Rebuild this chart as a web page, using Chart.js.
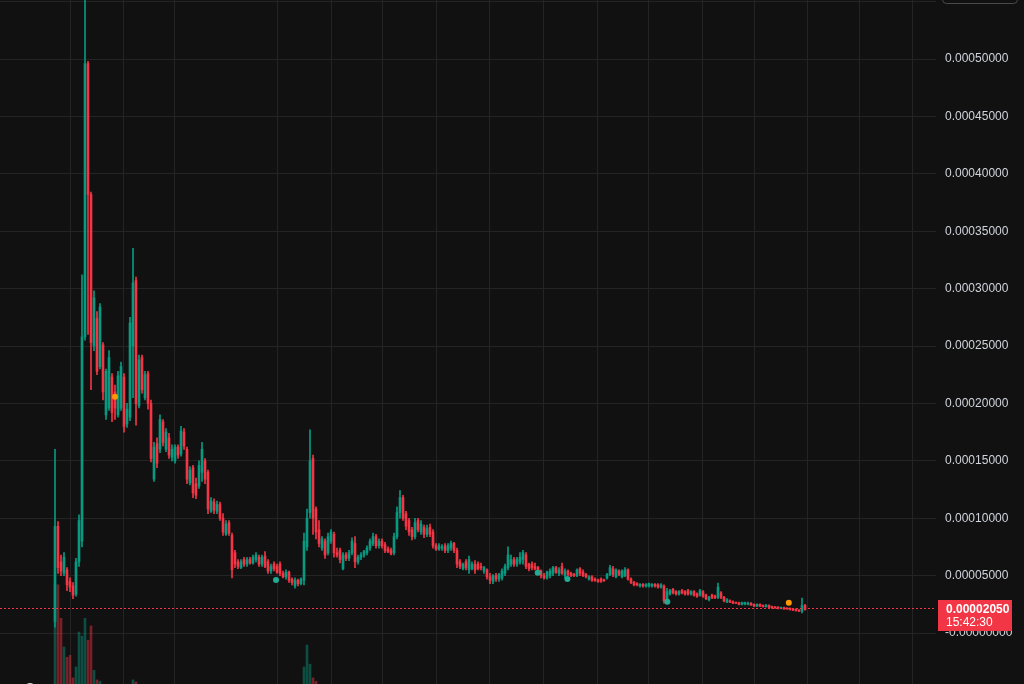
<!DOCTYPE html>
<html>
<head>
<meta charset="utf-8">
<script src="https://cdn.jsdelivr.net/npm/chart.js@4.4.1/dist/chart.umd.min.js"></script>
<style>
  html, body { margin: 0; padding: 0; background: #111111; overflow: hidden; }
  #chart { display: block; }
</style>
</head>
<body>
<canvas id="chart" width="1024" height="684"></canvas>
<script>
// prices in millionths (1 = 0.000001)
const opens = [
  10, 93, 62, 52, 55, 45, 41, 34, 62, 80,
  258, 496, 382, 250, 274, 232, 251, 190, 196, 223,
  210, 190, 196, 223, 182, 188, 250, 307, 198, 240,
  205, 226, 200, 134, 165, 160, 184, 160, 170, 153,
  150, 162, 156, 175, 160, 131, 144, 130, 128, 140,
  150, 140, 106, 114, 106, 112, 100, 86, 96, 85,
  70, 62, 57, 64, 60, 64, 61, 64, 66, 60,
  67, 62, 54, 60, 58, 60, 52, 49, 53, 47,
  41, 46, 43, 46, 75, 105, 152, 108, 90, 74,
  80, 70, 80, 86, 70, 72, 56, 68, 65, 70,
  78, 62, 66, 68, 70, 74, 78, 84, 76, 80,
  77, 73, 72, 70, 84, 105, 118, 104, 98, 90,
  84, 98, 88, 92, 86, 92, 88, 76, 73, 74,
  76, 72, 74, 78, 72, 62, 56, 62, 55, 56,
  60, 60, 58, 54, 55, 49, 45, 50, 47, 48,
  52, 57, 60, 64, 60, 62, 64, 68, 60, 60,
  58, 57, 54, 50, 48, 50, 52, 57, 52, 58,
  50, 54, 52, 51, 50, 56, 53, 51, 47, 49,
  47, 46, 47, 46, 48, 51, 56, 49, 54, 49,
  50, 55, 47, 44, 43, 41, 42.5, 41, 41, 41,
  42.5, 42, 40, 41, 30, 34, 38, 36, 34, 37,
  36, 37, 34, 36, 34, 33, 36, 33, 29, 33,
  32, 31, 35, 31, 27, 28, 27, 26.5, 26, 25,
  25.5, 25, 26, 25, 23.5, 25, 24, 23, 24, 23,
  22.5, 22.5, 21.5, 22, 21.5, 21.5, 21, 20.5, 20, 19,
  24
];
const highs = [
  160, 97, 68, 70, 57, 48, 44, 65, 103, 312,
  560, 498, 384, 298, 280, 287, 253, 230, 246, 226,
  216, 228, 236, 226, 200, 275, 335, 310, 242, 242,
  228, 228, 203, 166, 170, 190, 186, 178, 174, 164,
  164, 164, 180, 178, 162, 145, 146, 135, 150, 166,
  152, 142, 118, 117, 115, 114, 104, 98, 98, 87,
  72, 64, 64, 66, 66, 66, 68, 70, 68, 68,
  71, 64, 60, 62, 60, 62, 54, 55, 54, 48,
  48, 47, 48, 87, 108, 177, 155, 110, 98, 84,
  82, 87, 90, 88, 74, 74, 70, 70, 72, 83,
  84, 68, 70, 72, 76, 82, 87, 86, 82, 82,
  79, 75, 74, 87, 110, 124, 120, 106, 100, 92,
  100, 100, 98, 94, 94, 95, 90, 78, 78, 77,
  78, 78, 80, 79, 74, 64, 61, 64, 67, 62,
  63, 62, 61, 58, 56, 52, 51, 52, 52, 56,
  60, 75, 68, 66, 66, 70, 72, 70, 61, 62,
  61, 58, 55, 52, 54, 56, 58, 58, 57, 61,
  56, 55, 53, 52, 56, 57, 55, 52, 50, 50,
  48, 47, 48, 47, 52, 59, 58, 56, 55, 55,
  57, 56, 48, 45, 44, 43, 43, 43, 43.5, 43,
  43, 43, 43, 42, 39, 38, 39, 37, 37, 38,
  37, 38, 37, 37, 35, 38, 37, 34, 32, 34,
  33, 43.5, 36, 32, 30, 29, 28, 27, 27, 27,
  27, 27, 26.5, 25.5, 25.5, 25.5, 24.5, 25, 24.5, 23.5,
  23, 23, 22.5, 22.5, 22, 22, 21.5, 21, 20.5, 30.5,
  25
];
const lows = [
  5, 52, 50, 50, 37, 36, 30, 32, 58, 75,
  255, 260, 212, 246, 225, 230, 203, 186, 194, 184,
  186, 188, 194, 175, 179, 185, 205, 181, 196, 209,
  203, 195, 149, 132, 144, 157, 163, 158, 152, 150,
  148, 152, 154, 160, 130, 129, 118, 117, 126, 132,
  130, 104, 105, 104, 104, 98, 85, 85, 85, 48,
  57, 56, 56, 58, 58, 60, 60, 62, 58, 58,
  57, 52, 52, 54, 52, 50, 48, 47, 44, 42,
  39, 41, 42, 42, 72, 100, 86, 82, 75, 72,
  65, 68, 78, 66, 66, 61, 55, 63, 63, 68,
  57, 60, 64, 66, 68, 72, 76, 74, 74, 74,
  70, 70, 68, 68, 82, 100, 98, 90, 85, 81,
  82, 88, 86, 83, 84, 84, 74, 72, 72, 72,
  70, 70, 72, 70, 57, 56, 55, 55, 52, 55,
  52, 55, 55, 52, 47, 43, 43, 45, 45, 46,
  50, 55, 58, 58, 58, 60, 60, 56, 54, 55,
  55, 51, 48, 47, 47, 48, 50, 52, 50, 51,
  48, 50, 49, 49, 49, 50, 49, 48, 46, 45,
  45, 44, 44, 45, 47, 50, 49, 48, 50, 48,
  49, 46, 43, 41, 41, 40, 40, 40, 40, 40,
  40, 39, 39, 26, 28, 33, 34, 33, 33, 34,
  33, 33, 33, 32, 31, 32, 31, 29, 28, 30,
  30, 30, 30, 27, 26.5, 26.5, 25.5, 25.5, 24.5, 24.5,
  24.5, 24.5, 24, 23, 23, 23, 22.5, 22.5, 22, 21.5,
  21.5, 21, 21, 20.5, 20.5, 20, 19.5, 19, 18.5, 17.5,
  20
];
const closes = [
  93, 57, 54, 66, 42, 40, 33, 62, 98, 258,
  496, 382, 253, 292, 228, 284, 210, 228, 240, 192,
  196, 224, 232, 180, 195, 270, 305, 200, 238, 212,
  225, 200, 152, 162, 148, 186, 166, 175, 155, 160,
  162, 155, 176, 163, 134, 142, 122, 120, 146, 160,
  134, 108, 115, 107, 112, 100, 88, 95, 87, 55,
  60, 58, 62, 60, 64, 61, 66, 68, 60, 66,
  58, 54, 58, 56, 53, 52, 49, 53, 46, 44,
  46, 43, 47, 80, 100, 150, 100, 88, 78, 82,
  68, 84, 88, 70, 68, 64, 68, 65, 70, 80,
  62, 66, 68, 71, 74, 80, 84, 76, 80, 76,
  72, 71, 69, 84, 105, 118, 100, 93, 88, 84,
  96, 90, 95, 86, 91, 86, 76, 73, 76, 75,
  72, 76, 78, 72, 60, 58, 60, 57, 64, 60,
  55, 56, 57, 57, 49, 46, 50, 47, 51, 54,
  58, 68, 64, 60, 64, 66, 70, 58, 56, 57,
  56, 53, 50, 48, 53, 54, 57, 53, 55, 52,
  54, 51, 50, 50, 55, 52, 50, 49, 49, 46,
  46, 45, 45, 45.5, 51, 57, 51, 55, 51, 54,
  55, 47, 44, 42, 42, 42.5, 41, 42, 43, 42.5,
  41, 40, 42, 28, 36, 37, 35, 34, 36, 35,
  34, 34, 36, 33, 32, 37, 32, 30, 31, 31,
  31, 40, 31, 28, 29, 27, 26, 26, 25, 26.5,
  26.5, 26, 24.5, 23.5, 25, 23.5, 23, 24, 22.5, 22,
  22, 21.5, 22, 21, 21, 20.5, 20, 19.5, 19, 24,
  20.5
];

// volume (arbitrary units), only candles where a bar is visible
const volIndex = [0, 1, 2, 3, 4, 5, 6, 7, 8, 9, 10, 11, 12, 13, 14, 15, 26, 27, 83, 84, 85, 86, 87];
const volValue = [146, 145, 96, 54, 39, 42, 9, 25, 76, 70, 96, 64, 85, 20, 6, 4, 6, 3, 25, 57, 29, 9, 4];

// signal markers: candle position, price, kind
const markX = [20, 73.67, 160.9, 170.8, 204.1, 244.6];
const markY = [205.8, 46.2, 52.5, 47, 27.3, 26.4];
const markKind = ['sell', 'buy', 'buy', 'buy', 'buy', 'sell'];

// time grid boundaries, in candle positions
const timeGridIdx = [5, 22.67, 40, 74.33, 92.33, 109.33, 127.33, 144.67, 162.67,
  180.67, 197.67, 215.67, 233, 250.67, 268.33, 285.67];

const yTicksStep = 50;
const lastPriceText = '0.00002050';
const countdownText = '15:42:30';

const UP = '#089981';
const DOWN = '#f23645';
const UP_VOL = 'rgba(8,153,129,0.45)';
const DOWN_VOL = 'rgba(242,54,69,0.45)';

const isUp = i => closes[i] >= opens[i];
const idx = opens.map((_, i) => i);

const wickData = idx.map(i => ({ x: i, y: [lows[i], highs[i]] }));
const bodyData = idx.map(i => ({ x: i, y: [opens[i], closes[i]] }));
const candleColors = idx.map(i => isUp(i) ? UP : DOWN);
const volData = volIndex.map((i, k) => ({ x: i, y: volValue[k] }));
const volColors = volIndex.map(i => isUp(i) ? UP_VOL : DOWN_VOL);
const markData = markX.map((x, k) => ({ x, y: markY[k] }));
const markColors = markKind.map(k => k === 'sell' ? '#ff9800' : '#22ab94');

const fmtPrice = v => {
  if (v > 500) return '';
  if (v === 0) return '-0.00000000';
  return (v / 1e6).toFixed(8);
};

const overlay = {
  id: 'overlay',
  afterDraw(chart) {
    const { ctx, chartArea, scales } = chart;
    const last = closes[closes.length - 1];
    const py = Math.round(scales.y.getPixelForValue(last)) - 0.5;

    // last price dotted line
    ctx.save();
    ctx.strokeStyle = DOWN;
    ctx.lineWidth = 1;
    ctx.setLineDash([2, 2]);
    ctx.beginPath();
    ctx.moveTo(chartArea.left, py);
    ctx.lineTo(chartArea.right, py);
    ctx.stroke();
    ctx.restore();

    // price label box
    const bx = chartArea.right + 2;
    ctx.save();
    ctx.fillStyle = DOWN;
    ctx.fillRect(bx, py - 8.5, 74, 31);
    ctx.fillStyle = '#ffffff';
    ctx.textBaseline = 'middle';
    ctx.textAlign = 'left';
    ctx.font = 'bold 12px "Liberation Sans", Arial, sans-serif';
    ctx.fillText(lastPriceText, bx + 8, py + 1);
    ctx.font = '12px "Liberation Sans", Arial, sans-serif';
    ctx.fillText(countdownText, bx + 8, py + 14);
    ctx.restore();

    // toolbar button edge at top right
    ctx.save();
    ctx.strokeStyle = '#4a4a4a';
    ctx.lineWidth = 1;
    ctx.beginPath();
    ctx.roundRect(942.5, -10, 75, 13.5, 4);
    ctx.stroke();
    // logo edge at bottom left
    ctx.fillStyle = '#d8d8d8';
    ctx.beginPath();
    ctx.arc(30, 689, 6, 0, Math.PI * 2);
    ctx.fill();
    ctx.restore();
  }
};

new Chart(document.getElementById('chart'), {
  type: 'bar',
  data: {
    datasets: [
      {
        type: 'scatter',
        data: markData,
        pointRadius: 3,
        pointBackgroundColor: markColors,
        pointBorderWidth: 0,
        order: -1
      },
      {
        data: bodyData,
        backgroundColor: candleColors,
        barThickness: 2,
        minBarLength: 1,
        grouped: false,
        order: 0
      },
      {
        data: wickData,
        backgroundColor: candleColors,
        barThickness: 1,
        grouped: false,
        order: 1
      },
      {
        data: volData,
        yAxisID: 'yv',
        backgroundColor: volColors,
        barThickness: 2,
        grouped: false,
        order: 2
      }
    ]
  },
  options: {
    responsive: false,
    animation: false,
    devicePixelRatio: 1,
    layout: { padding: 0, autoPadding: false },
    plugins: { legend: { display: false }, tooltip: { enabled: false } },
    scales: {
      x: {
        type: 'linear',
        min: -55 / 3,
        max: 881 / 3,
        offset: false,
        ticks: { display: false },
        grid: { color: '#242424', drawTicks: false, offset: false },
        border: { display: false },
        afterBuildTicks(scale) {
          scale.ticks = timeGridIdx.map(value => ({ value }));
        },
        afterFit(scale) { scale.height = 0; }
      },
      y: {
        position: 'right',
        min: -44.4,
        max: 551.4,
        ticks: {
          stepSize: yTicksStep,
          includeBounds: false,
          padding: 9,
          color: '#d1d4dc',
          font: { family: '"Liberation Sans", Arial, sans-serif', size: 12 },
          callback: fmtPrice
        },
        grid: { color: '#242424', drawTicks: false },
        border: { display: false },
        afterFit(scale) {
          scale.width = 88;
          scale.paddingTop = 0;
          scale.paddingBottom = 0;
        }
      },
      yv: {
        display: false,
        min: 0,
        max: 1000
      }
    }
  },
  plugins: [overlay]
});
</script>
</body>
</html>
